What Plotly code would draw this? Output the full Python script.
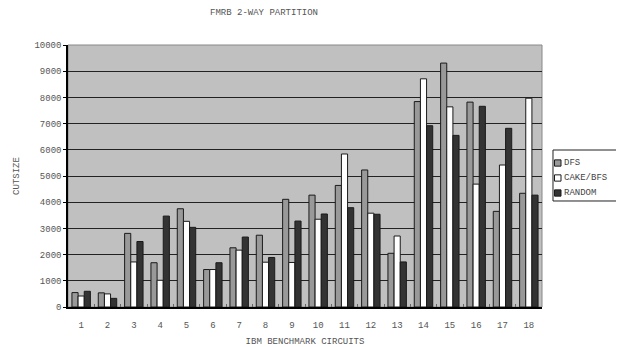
import plotly.graph_objects as go

circuits = [str(i) for i in range(1, 19)]
dfs = [550, 540, 2810, 1690, 3750, 1430, 2260, 2740, 4110, 4270, 4640, 5230, 2050, 7840, 9310, 7820, 3650, 4340]
cake_bfs = [420, 500, 1720, 1020, 3270, 1430, 2170, 1710, 1700, 3350, 5840, 3580, 2710, 8710, 7640, 4690, 5420, 7970]
random_ = [600, 330, 2500, 3470, 3040, 1690, 2670, 1890, 3280, 3550, 3790, 3540, 1720, 6920, 6550, 7660, 6820, 4270]
y_ticks = list(range(0, 10001, 1000))

series_names = ["DFS", "CAKE/BFS", "RANDOM"]
series_colors = ["#999999", "#ffffff", "#333333"]

font_main = "Courier New, Liberation Mono, DejaVu Sans Mono, monospace"

fig = go.Figure()
for name, vals, col in zip(series_names, [dfs, cake_bfs, random_], series_colors):
    fig.add_trace(go.Bar(name=name, x=circuits, y=vals,
                         marker=dict(color=col, line=dict(color="#1a1a1a", width=1))))

fig.update_layout(
    width=616, height=339,
    margin=dict(l=60, r=82, t=37, b=40, autoexpand=False),
    paper_bgcolor="white",
    plot_bgcolor="#c0c0c0",
    barmode="group", bargap=0.3, bargroupgap=0,
    font=dict(family=font_main, size=9, color="#555555"),
    title=dict(text="FMRB 2-WAY PARTITION", x=0.4156, xanchor="center", y=0.988, yanchor="middle",
               font=dict(family=font_main, size=9, color="#555555")),
    showlegend=False,
    xaxis=dict(
        title=dict(text="IBM BENCHMARK CIRCUITS", standoff=9,
                   font=dict(family=font_main, size=9, color="#555555")),
        showline=True, linecolor="black", linewidth=1.5,
        ticks="inside", tickson="boundaries", ticklen=3, tickcolor="#666666",
        ticklabelstandoff=8,
        showgrid=False, mirror=False,
    ),
    yaxis=dict(
        title=dict(text="CUTSIZE", standoff=13,
                   font=dict(family=font_main, size=9, color="#555555")),
        range=[0, 10000], tickvals=y_ticks, tickformat="d",
        showline=True, linecolor="black", linewidth=1.5,
        ticks="outside", ticklen=3, tickcolor="black",
        showgrid=True, gridcolor="#222222", gridwidth=1,
        zeroline=False,
    ),
)
fig.add_shape(type="rect", xref="paper", yref="paper", x0=0, y0=0, x1=1, y1=1,
              line=dict(color="#888888", width=1), layer="below")

# legend box drawn manually to match the compact original legend
fig.add_shape(type="rect", xref="paper", yref="paper", x0=1.0232, x1=1.1688, y0=0.4046, y1=0.5992,
              line=dict(color="#222222", width=1), fillcolor="white")
leg_y = [0.5496, 0.4924, 0.4351]
for name, col, yy in zip(series_names, series_colors, leg_y):
    fig.add_shape(type="rect", xref="paper", yref="paper", x0=1.0264, x1=1.0401,
                  y0=yy - 0.0120, y1=yy + 0.0120,
                  line=dict(color="#1a1a1a", width=1), fillcolor=col)
    fig.add_annotation(xref="paper", yref="paper", x=1.0425, y=yy, text=name, showarrow=False,
                       xanchor="left", yanchor="middle",
                       font=dict(family=font_main, size=9, color="#444444"))

fig.write_html("out.html")
